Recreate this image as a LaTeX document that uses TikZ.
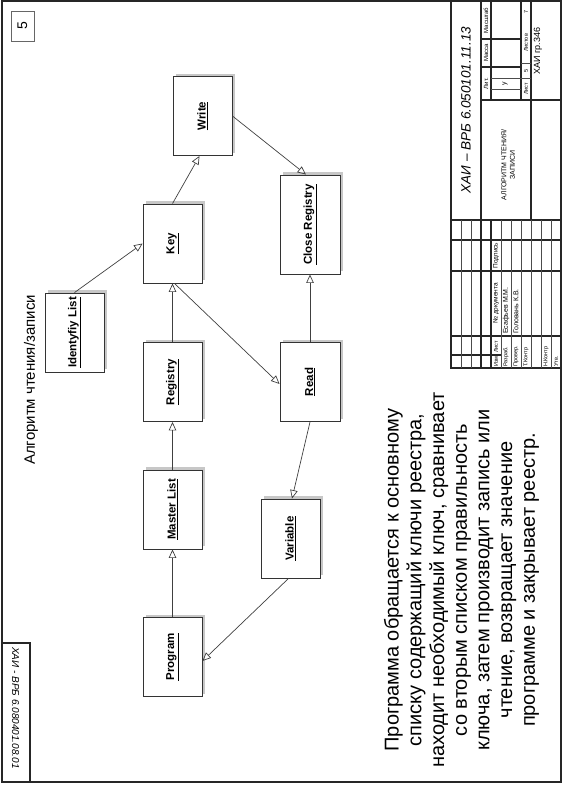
\documentclass[tikz,border=0pt]{standalone}
\usepackage{fontspec}
\setmainfont{Liberation Sans}
\usetikzlibrary{arrows.meta,shadows}
\begin{document}
\begin{tikzpicture}[x=1pt,y=-1pt,
  box/.style={draw=black!80, line width=0.9pt, fill=white, minimum width=59pt, minimum height=79pt, inner sep=0pt,
    drop shadow={shadow xshift=3pt, shadow yshift=3pt, fill=black!22, opacity=1},
    font=\bfseries\fontsize{11.5}{13}\selectfont},
  arr/.style={draw=black!75, line width=0.7pt, -{Triangle[open, length=8.5pt, width=7.5pt]}},
  frm/.style={line width=1.6pt, draw=black!85},
  thk/.style={line width=1.1pt, draw=black!85},
  thn/.style={line width=0.4pt, draw=black!70},
  lbl/.style={rotate=90, inner sep=0pt, font=\fontsize{5.5}{6}\selectfont},
  lblw/.style={lbl, anchor=west},
]
\useasboundingbox (0,0) rectangle (563,785);
% outer frame
\draw[frm] (2,1) rectangle (561,782);
% page number box
\node[draw=black!60, line width=0.6pt, minimum width=23pt, minimum height=30pt, inner sep=0pt] (pnum) at (22.5,26) {\rotatebox{90}{\fontsize{14}{14}\selectfont 5}};
% bottom-left box
\draw[thk] (2,643) -- (30,643) -- (30,782);
\node[rotate=-90, inner sep=0pt, font=\itshape\fontsize{10}{10}\selectfont] (code) at (15.5,708) {ХАИ - ВРБ 6.080401.08.01};
% title
\node[rotate=90, inner sep=0pt, font=\fontsize{15}{15}\selectfont] (title) at (31,380) {Алгоритм чтения/записи};
% boxes
\node[box] (write) at (202.5,116) {\rotatebox{90}{\underline{Write}}};
\node[box] (key) at (172.5,243.5) {\rotatebox{90}{\underline{Key}}};
\node[box] (reg) at (172.5,382) {\rotatebox{90}{\underline{Registry}}};
\node[box] (mast) at (172.5,509.5) {\rotatebox{90}{\underline{Master List}}};
\node[box] (prog) at (172.5,657) {\rotatebox{90}{\underline{Program}}};
\node[box] (ident) at (74.5,332.5) {\rotatebox{90}{\underline{Identyfiy List}}};
\node[box, minimum width=60pt, minimum height=99pt] (close) at (310,224.5) {\rotatebox{90}{\underline{Close Registry}}};
\node[box, minimum width=60pt] (read) at (310,382) {\rotatebox{90}{\underline{Read}}};
\node[box] (var) at (290.5,538.5) {\rotatebox{90}{\underline{Variable}}};
% connectors
\draw[arr] (prog.north) -- (mast.south);
\draw[arr] (mast.north) -- (reg.south);
\draw[arr] (reg.north) -- (key.south);
\draw[arr] (ident.north) -- (key.west);
\draw[arr] (key.north) -- ([xshift=-3pt]write.south);
\draw[arr] (write.east) -- ([xshift=-4pt]close.north);
\draw[arr] (read.north) -- (close.south);
\draw[arr] ([xshift=2pt]key.south) -- ([yshift=-2pt]read.west);
\draw[arr] (read.south) -- ([xshift=1.5pt]var.north);
\draw[arr] ([xshift=-2pt]var.south) -- ([yshift=-4pt]prog.east);
% description text
\node[rotate=90, align=center, inner sep=0pt, font=\fontsize{20}{22.7}\selectfont] (desc) at (461.5,580) {Программа обращается к основному\\списку содержащий ключи реестра,\\находит необходимый ключ, сравнивает\\со вторым списком правильность\\ключа, затем производит запись или\\чтение, возвращает значение\\программе и закрывает реестр.};
% ---- title block ----
\draw[thk] (451,1) -- (451,368) -- (561,368);
\draw[thk] (451,220) -- (561,220);
% left part
\foreach \yy in {240,271,336} \draw[thk] (451,\yy) -- (561,\yy);
\draw[thk] (451,355) -- (501,355);
\foreach \xx in {461,471,501,511,521,531,541,551} \draw[thn] (\xx,220) -- (\xx,368);
\draw[thk] (481,220) -- (481,368);
\draw[thk] (491,220) -- (491,368);
% right part
\draw[thk] (481,1) -- (481,220);
\draw[thk] (531,1) -- (531,220);
\draw[thk] (481,100) -- (561,100);
\draw[thk] (491,1) -- (491,100);
\draw[thk] (521,1) -- (521,100);
\draw[thk] (481,39) -- (521,39);
\draw[thk] (481,67) -- (521,67);
\draw[thn] (491,78) -- (521,78);
\draw[thn] (491,89) -- (521,89);
\draw[thn] (521,63) -- (531,63);
\draw[thn] (521,78) -- (531,78);
% title block texts
\node[rotate=90, inner sep=0pt, font=\itshape\fontsize{13.5}{14}\selectfont] (desig) at (466,110) {ХАИ – ВРБ 6.050101.11.13};
\node[rotate=90, inner sep=0pt, align=center, font=\fontsize{7}{8.5}\selectfont] (name) at (508,165) {АЛГОРИТМ ЧТЕНИЯ/\\ЗАПИСИ};
\node[lbl, font=\fontsize{6}{6}\selectfont] (hlit) at (486,83.5) {Лит.};
\node[lbl, font=\fontsize{6}{6}\selectfont] (hmas) at (486,53) {Масса};
\node[lbl, font=\fontsize{6}{6}\selectfont] (hmsh) at (486,20.5) {Масштаб};
\node[lbl, font=\fontsize{7}{7}\selectfont] (vlit) at (505,83.5) {у};
\node[lbl] (hlist) at (526,89) {Лист};
\node[lbl] (vlist) at (526,70.5) {5};
\node[lbl] (hlistov) at (526,43) {Листов};
\node[lbl] (vlistov) at (526,12) {7};
\node[rotate=90, inner sep=0pt, font=\fontsize{9}{9}\selectfont] (org) at (538,51) {ХАИ гр.346};
\node[lblw] (tizm) at (496,367) {Изм};
\node[lblw] (tlist) at (496,353) {Лист};
\node[lbl, font=\fontsize{6.5}{6.5}\selectfont] (tdoc) at (496,303.5) {№ документа};
\node[lbl, font=\fontsize{6.5}{6.5}\selectfont] (tpodp) at (496,255.5) {Подпись};
\node[lblw] (trazr) at (506,367) {Разраб.};
\node[lblw, font=\fontsize{7}{7}\selectfont] (tes) at (506,334) {Есафьев М.М.};
\node[lblw] (tprov) at (516,367) {Провер.};
\node[lblw, font=\fontsize{7}{7}\selectfont] (tgol) at (516,334) {Головань К.В.};
\node[lblw] (ttk) at (526,367) {Т.Контр};
\node[lblw] (tnk) at (546,367) {Н.Контр};
\node[lblw] (tutv) at (556,367) {Утв.};
\end{tikzpicture}
\end{document}
